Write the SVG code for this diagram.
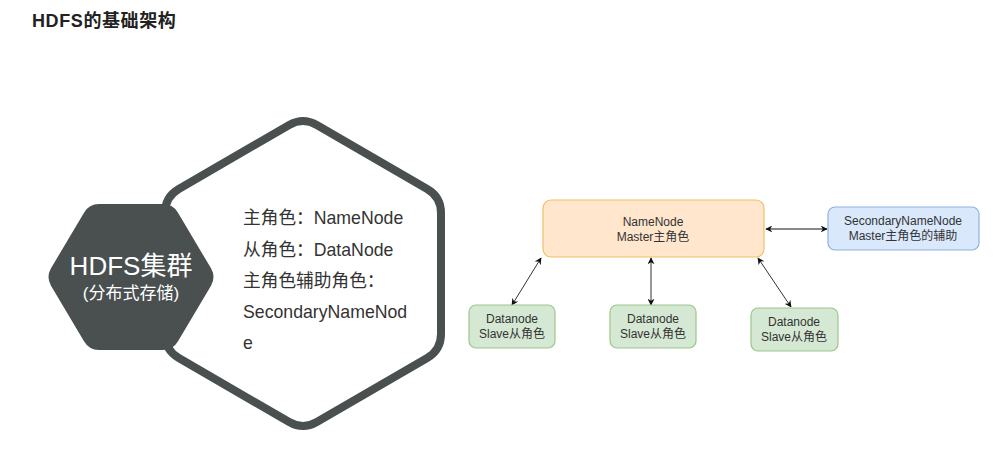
<svg xmlns="http://www.w3.org/2000/svg" width="994" height="461" viewBox="0 0 994 461">
<defs>
<style>
.t{font-family:"Liberation Sans","Noto Sans CJK SC",sans-serif;}
.title{font-size:18px;font-weight:bold;fill:#222;letter-spacing:0.6px;}
.role{font-size:17.7px;fill:#333;}
.box{font-size:12px;fill:#333;text-anchor:middle;}
.orange{fill:#ffe6cc;stroke:#efc065;stroke-width:1.2;}
.blue{fill:#dae8fc;stroke:#8fb0df;stroke-width:1.2;}
.green{fill:#d5e8d4;stroke:#9cc68a;stroke-width:1.2;}
.conn{stroke:#333;stroke-width:1;fill:none;marker-start:url(#ar);marker-end:url(#ar);}
</style>
<marker id="ar" viewBox="0 0 10 10" refX="9" refY="5" markerWidth="7" markerHeight="7" markerUnits="userSpaceOnUse" orient="auto-start-reverse">
<path d="M0,0 L10,5 L0,10 L3,5 Z" fill="#111"/>
</marker>
</defs>
<rect width="994" height="461" fill="#fff"/>
<text class="t title" x="32" y="27">HDFS的基础架构</text>

<g id="roles-hexagon">
<path d="M 316.8,125 L 427.2,189 Q 441,197 441,213 L 441,334 Q 441,350 427.2,358 L 316.8,422 Q 303,430 289.2,422 L 178.8,358 Q 165,350 165,334 L 165,213 Q 165,197 178.8,189 L 289.2,125 Q 303,117 316.8,125 Z" fill="#fff" stroke="#4a4f4f" stroke-width="8"/>
<text class="t role" x="243" y="224">主角色：NameNode</text>
<text class="t role" x="243" y="256">从角色：DataNode</text>
<text class="t role" x="243" y="287">主角色辅助角色：</text>
<text class="t role" x="243" y="318">SecondaryNameNod</text>
<text class="t role" x="243" y="349">e</text>
</g>

<g id="cluster-hexagon">
<path d="M 99,204 L 163,204 Q 173,204 178,212.7 L 211,268.3 Q 216,277 211,285.7 L 178,341.3 Q 173,350 163,350 L 99,350 Q 89,350 84,341.3 L 51,285.7 Q 46,277 51,268.3 L 84,212.7 Q 89,204 99,204 Z" fill="#4a4f4f"/>
<text class="t" x="131" y="275" font-size="26" fill="#fff" text-anchor="middle">HDFS集群</text>
<text class="t" x="131" y="299" font-size="17" fill="#fff" text-anchor="middle">(分布式存储)</text>
</g>

<g id="connectors">
<line x1="766" y1="229" x2="827" y2="229" class="conn" style="stroke:#888;stroke-width:2"/>
<line x1="541" y1="258" x2="512" y2="305" class="conn"/>
<line x1="651" y1="258" x2="651" y2="305" class="conn"/>
<line x1="758" y1="258" x2="791" y2="307" class="conn"/>
</g>

<g id="namenode">
<rect x="543" y="200" width="221" height="57" rx="8" class="orange"/>
<text class="t box" x="653" y="226">NameNode</text>
<text class="t box" x="653" y="241">Master主角色</text>
</g>

<g id="secondarynamenode">
<rect x="828" y="207" width="151" height="43" rx="7" class="blue"/>
<text class="t box" x="903" y="225">SecondaryNameNode</text>
<text class="t box" x="903" y="240">Master主角色的辅助</text>
</g>

<g id="datanode1">
<rect x="469" y="305" width="86" height="43" rx="7" class="green"/>
<text class="t box" x="512" y="323">Datanode</text>
<text class="t box" x="512" y="338">Slave从角色</text>
</g>

<g id="datanode2">
<rect x="610" y="305" width="86" height="43" rx="7" class="green"/>
<text class="t box" x="653" y="323">Datanode</text>
<text class="t box" x="653" y="338">Slave从角色</text>
</g>

<g id="datanode3">
<rect x="751" y="308" width="87" height="43" rx="7" class="green"/>
<text class="t box" x="794" y="326">Datanode</text>
<text class="t box" x="794" y="341">Slave从角色</text>
</g>
</svg>
